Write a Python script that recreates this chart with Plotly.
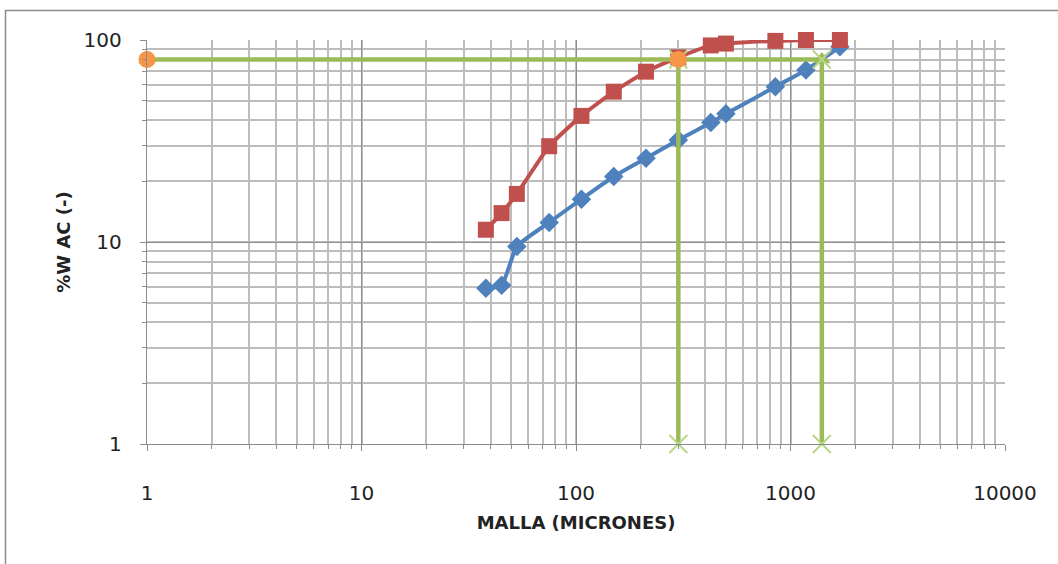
import plotly.graph_objects as go

# ---- data ----
malla = [38, 45, 53, 75, 106, 150, 212, 300, 425, 500, 850, 1180, 1700]
serie_azul = [5.9, 6.1, 9.5, 12.5, 16.3, 21.1, 26.0, 32.0, 39.0, 43.1, 58.7, 71.0, 92.6]
serie_roja = [11.5, 13.9, 17.3, 29.8, 42.1, 55.5, 69.7, 82.0, 94.0, 96.0, 99.0, 100.0, 100.0]

nivel = 80
d_roja = 300
d_azul = 1400
x_min = 1
y_min = 1

x_ticks = [1, 10, 100, 1000, 10000]
x_ticktext = ["1", "10", "100", "1000", "10000"]
y_ticks = [1, 10, 100]
y_ticktext = ["1", "10", "100"]

BLUE = "#4F81BD"
RED = "#C0504D"
GREEN = "#9BBB59"
ORANGE = "#F79646"
FONT = "DejaVu Sans"

fig = go.Figure()

fig.add_trace(go.Scatter(
    x=malla, y=serie_azul, mode="lines+markers",
    line=dict(color=BLUE, width=4, shape="spline", smoothing=0.5),
    marker=dict(symbol="diamond", size=15, color=BLUE),
    cliponaxis=False, showlegend=False,
))
fig.add_trace(go.Scatter(
    x=malla, y=serie_roja, mode="lines+markers",
    line=dict(color=RED, width=4, shape="spline", smoothing=0.5),
    marker=dict(symbol="square", size=16, color=RED),
    cliponaxis=False, showlegend=False,
))
# horizontal reference line
fig.add_trace(go.Scatter(
    x=[x_min, d_azul], y=[nivel, nivel], mode="lines+markers",
    line=dict(color=GREEN, width=4.5),
    marker=dict(symbol="triangle-up", size=15, color=GREEN),
    cliponaxis=False, showlegend=False,
))
# vertical reference lines
for d in (d_roja, d_azul):
    fig.add_trace(go.Scatter(
        x=[d, d], y=[nivel, y_min], mode="lines+markers",
        line=dict(color=GREEN, width=4.5),
        marker=dict(symbol="x-thin", size=18, color=GREEN,
                    line=dict(color="#B9D886", width=2)),
        cliponaxis=False, showlegend=False,
    ))
# orange points
fig.add_trace(go.Scatter(
    x=[x_min, d_roja], y=[nivel, nivel], mode="markers",
    marker=dict(symbol="circle", size=17, color=ORANGE),
    cliponaxis=False, showlegend=False,
))

L, R, T, B = 147, 53, 40, 120
W, H = 1058, 564
pw = W - L - R
ph = H - T - B

def px_to_paper_x(px):
    return (px - L) / pw

def py_to_paper_y(py):
    return (H - B - py) / ph

fig.add_shape(
    type="rect", xref="paper", yref="paper",
    x0=px_to_paper_x(5.5), x1=px_to_paper_x(1070),
    y0=py_to_paper_y(580), y1=py_to_paper_y(10.5),
    line=dict(color="#8C8C8C", width=1.5), layer="below",
)

axis_common = dict(
    type="log",
    showgrid=True,
    gridcolor="#8E8E8E",
    gridwidth=1.4,
    showline=True,
    linecolor="#8C8C8C",
    linewidth=1.4,
    ticks="outside",
    ticklen=6,
    tickcolor="#8C8C8C",
    zeroline=False,
    tickfont=dict(family=FONT, size=20, color="#222222"),
    minor=dict(showgrid=True, gridcolor="#BDBDBD", gridwidth=1.6,
               ticks="outside", ticklen=4, tickcolor="#8C8C8C", dtick="D1"),
)

fig.update_xaxes(
    **axis_common,
    range=[0, 4],
    tickvals=x_ticks, ticktext=x_ticktext,
    ticklabelstandoff=25,
    title=dict(text="<b>MALLA (MICRONES)</b>",
               font=dict(family=FONT, size=18, color="#222222"), standoff=12),
)
fig.update_yaxes(
    **axis_common,
    range=[0, 2],
    tickvals=y_ticks, ticktext=y_ticktext,
    ticklabelstandoff=14,
    title=dict(text="<b>%W AC (-)</b>",
               font=dict(family=FONT, size=18, color="#222222"), standoff=8),
)

fig.update_layout(
    width=W, height=H,
    margin=dict(l=L, r=R, t=T, b=B),
    paper_bgcolor="white",
    plot_bgcolor="white",
    showlegend=False,
)

fig.write_html("out.html")
